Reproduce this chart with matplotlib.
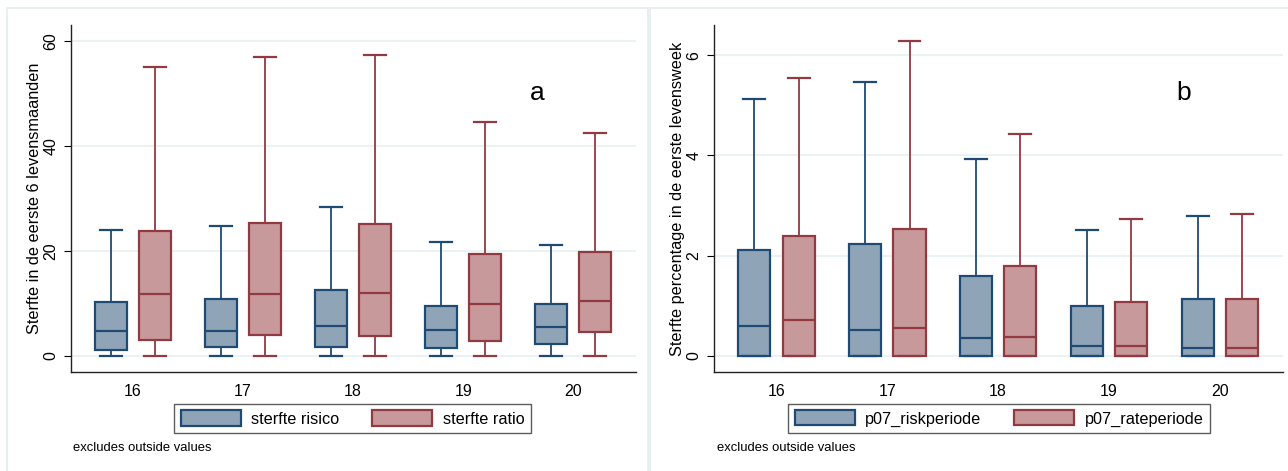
import matplotlib
matplotlib.use("Agg")
import matplotlib.pyplot as plt
from matplotlib.patches import Rectangle, Patch

plt.rcParams['font.family'] = ['Liberation Sans', 'DejaVu Sans']

categories = ["16", "17", "18", "19", "20"]

# Panel a: sterfte in de eerste 6 levensmaanden
a_risico_lo  = [0, 0, 0, 0, 0]
a_risico_q1  = [1.2, 1.7, 1.8, 1.5, 2.3]
a_risico_med = [4.8, 4.8, 5.7, 5.0, 5.5]
a_risico_q3  = [10.2, 10.8, 12.6, 9.5, 9.9]
a_risico_hi  = [24.0, 24.7, 28.4, 21.7, 21.2]

a_ratio_lo  = [0, 0, 0, 0, 0]
a_ratio_q1  = [3.0, 3.9, 3.8, 2.9, 4.5]
a_ratio_med = [11.8, 11.8, 11.9, 9.8, 10.5]
a_ratio_q3  = [23.7, 25.4, 25.2, 19.5, 19.7]
a_ratio_hi  = [55.0, 57.0, 57.2, 44.5, 42.5]

# Panel b: sterfte percentage in de eerste levensweek
b_risk_lo  = [0, 0, 0, 0, 0]
b_risk_q1  = [0, 0, 0, 0, 0]
b_risk_med = [0.60, 0.52, 0.35, 0.19, 0.16]
b_risk_q3  = [2.12, 2.24, 1.60, 1.00, 1.13]
b_risk_hi  = [5.13, 5.47, 3.93, 2.52, 2.79]

b_rate_lo  = [0, 0, 0, 0, 0]
b_rate_q1  = [0, 0, 0, 0, 0]
b_rate_med = [0.72, 0.56, 0.37, 0.19, 0.16]
b_rate_q3  = [2.40, 2.54, 1.79, 1.08, 1.14]
b_rate_hi  = [5.55, 6.28, 4.42, 2.74, 2.84]

BLUE_FILL, BLUE_EDGE = "#90a4b8", "#1f4a74"
RED_FILL, RED_EDGE = "#c8999b", "#923a42"
GRID = "#e8f0f2"
FRAME = "#e4ecee"

W, H = 1288, 471
fig = plt.figure(figsize=(W / 100, H / 100), dpi=100)
fig.patch.set_facecolor("white")

# panel frames
for (x0, x1) in [(7, 648), (650, 1290)]:
    fig.patches.append(Rectangle((x0 / W, 1 - 475 / H), (x1 - x0) / W, (475 - 8) / H,
                                 transform=fig.transFigure, fill=False,
                                 edgecolor=FRAME, linewidth=1.2))


def make_stats(lo, q1, med, q3, hi):
    return [dict(whislo=lo[i], q1=q1[i], med=med[i], q3=q3[i], whishi=hi[i], fliers=[])
            for i in range(len(lo))]


def draw_panel(ax, s1, s2, ylim, yticks, ylabel, letter, leg_labels, leg_x):
    pos = list(range(1, len(categories) + 1))
    off, width = 0.2, 0.29
    for stats, fc, ec, d in [(s1, BLUE_FILL, BLUE_EDGE, -off), (s2, RED_FILL, RED_EDGE, off)]:
        ax.bxp(stats, positions=[p + d for p in pos], widths=width, patch_artist=True,
               showfliers=False, capwidths=width * 0.68,
               boxprops=dict(facecolor=fc, edgecolor=ec, linewidth=1.6),
               medianprops=dict(color=ec, linewidth=1.6),
               whiskerprops=dict(color=ec, linewidth=1.3),
               capprops=dict(color=ec, linewidth=1.6), zorder=3)
    ax.set_xlim(0.436, 5.57)
    ax.set_ylim(*ylim)
    ax.set_xticks(pos)
    ax.set_xticklabels(categories)
    ax.set_yticks(yticks)
    ax.set_yticklabels([str(t) for t in yticks], rotation=90, va="center")
    ax.tick_params(axis="x", length=0, pad=9, labelsize=11.5)
    ax.tick_params(axis="y", length=5, width=0.8, pad=4, labelsize=11.5)
    ax.yaxis.grid(True, color=GRID, linewidth=1.2, zorder=0)
    ax.set_axisbelow(True)
    for sp in ["top", "right"]:
        ax.spines[sp].set_visible(False)
    for sp in ["left", "bottom"]:
        ax.spines[sp].set_linewidth(1.0)
        ax.spines[sp].set_color("#222222")
    ax.set_ylabel(ylabel, fontsize=11.7, labelpad=1)
    ax.text(0.825, 0.805, letter, transform=ax.transAxes, fontsize=19,
            ha="center", va="center")
    handles = [Patch(facecolor=BLUE_FILL, edgecolor=BLUE_EDGE, linewidth=1.6),
               Patch(facecolor=RED_FILL, edgecolor=RED_EDGE, linewidth=1.6)]
    leg = fig.legend(handles, leg_labels, loc="center", bbox_to_anchor=(leg_x, 1 - 418.5 / H),
                     ncol=2, fontsize=11.7, frameon=True, fancybox=False,
                     handlelength=3.7, handleheight=1.05, columnspacing=2.0,
                     handletextpad=0.65, borderpad=0.4, borderaxespad=0)
    leg.get_frame().set_edgecolor("#333333")
    leg.get_frame().set_linewidth(1.0)


axb_y0 = 1 - 372 / H
axb_h = (372 - 25) / H

ax1 = fig.add_axes([71 / W, axb_y0, (636 - 71) / W, axb_h])
draw_panel(ax1,
           make_stats(a_risico_lo, a_risico_q1, a_risico_med, a_risico_q3, a_risico_hi),
           make_stats(a_ratio_lo, a_ratio_q1, a_ratio_med, a_ratio_q3, a_ratio_hi),
           (-3.05, 63.0), [0, 20, 40, 60], "Sterfte in de eerste 6 levensmaanden", "a",
           ["sterfte risico", "sterfte ratio"], 352.5 / W)

ax2 = fig.add_axes([714 / W, axb_y0, (1283 - 714) / W, axb_h])
draw_panel(ax2,
           make_stats(b_risk_lo, b_risk_q1, b_risk_med, b_risk_q3, b_risk_hi),
           make_stats(b_rate_lo, b_rate_q1, b_rate_med, b_rate_q3, b_rate_hi),
           (-0.32, 6.6), [0, 2, 4, 6], "Sterfte percentage in de eerste levensweek", "b",
           ["p07_riskperiode", "p07_rateperiode"], 999 / W)

fig.text(73 / W, 1 - 448 / H, "excludes outside values", fontsize=9.4, va="center")
fig.text(717 / W, 1 - 448 / H, "excludes outside values", fontsize=9.4, va="center")

fig.savefig("out.png", dpi=100)
